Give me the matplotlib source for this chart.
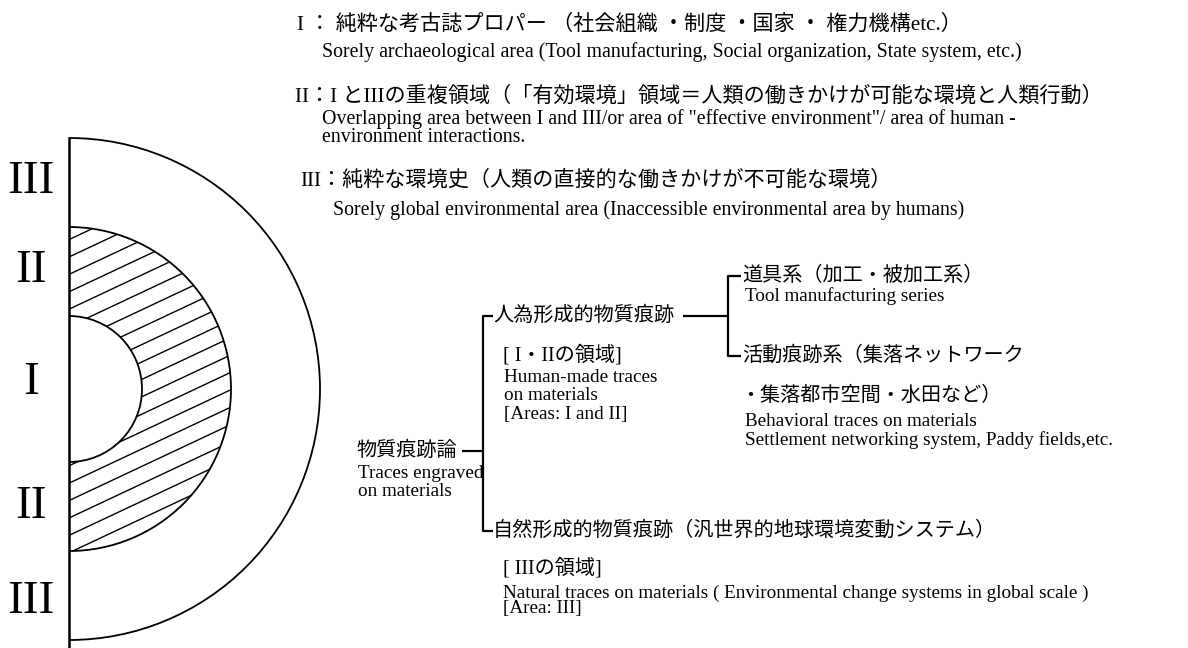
import numpy as np
import matplotlib.pyplot as plt
from matplotlib.patches import Arc, Wedge

# serif for latin text, CJK font as fallback for the Japanese glyphs
plt.rcParams['font.family'] = ['Liberation Serif', 'Noto Sans CJK JP']

# zone labels down the left side of the half disc
zone_labels = ['III', 'II', 'I', 'II', 'III']

# legend block at the top
legend_jp = [
    'I ： 純粋な考古誌プロパー （社会組織 ・制度 ・国家 ・ 権力機構etc.）',
    'II：I とIIIの重複領域（「有効環境」領域＝人類の働きかけが可能な環境と人類行動）',
    'III：純粋な環境史（人類の直接的な働きかけが不可能な環境）',
]
legend_en = [
    ['Sorely archaeological area (Tool manufacturing, Social organization, State system, etc.)'],
    ['Overlapping area between I and III/or area of "effective environment"/ area of human -',
     'environment interactions.'],
    ['Sorely global environmental area (Inaccessible environmental area by humans)'],
]

# tree of trace types
root_jp = '物質痕跡論'
root_en = ['Traces engraved', 'on materials']
human_jp = '人為形成的物質痕跡'
human_area = '[ I・IIの領域]'
human_en = ['Human-made traces', 'on materials', '[Areas: I and II]']
tool_jp = '道具系（加工・被加工系）'
tool_en = ['Tool manufacturing series']
act_jp = ['活動痕跡系（集落ネットワーク', '・集落都市空間・水田など）']
act_en = ['Behavioral traces on materials', 'Settlement networking system, Paddy fields,etc.']
nat_jp = '自然形成的物質痕跡（汎世界的地球環境変動システム）'
nat_area = '[ IIIの領域]'
nat_en = ['Natural traces on materials ( Environmental change systems in global scale )',
          '[Area: III]']

W, H = 1188, 648
fig = plt.figure(figsize=(W / 100, H / 100), dpi=100)
ax = fig.add_axes([0, 0, 1, 1])
ax.set_xlim(0, W)
ax.set_ylim(H, 0)
ax.axis('off')

JP_TOP, EN_TOP = 15.2, 14.3
JP, EN = 14.5, 13.8
lw = 1.6

# ---- half disc ----
cx, cy = 69, 389
radii = [251, 162, 73]
for r in radii:
    ax.add_patch(Arc((cx, cy), 2 * r, 2 * r, theta1=-90, theta2=90, lw=1.3, color='black'))
ax.plot([cx, cx], [cy - radii[0], H], color='black', lw=1.8)

# hatching in the middle ring
ring = Wedge((cx, cy), radii[1], -90, 90, width=radii[1] - radii[2],
             fill=False, lw=0, transform=ax.transData)
ax.add_patch(ring)
for c in np.arange(257 - 17.4 * 2, cy + radii[1] + 120, 17.4):
    ln, = ax.plot([cx, cx + 220], [c, c - 0.47 * 220], color='black', lw=1.0)
    ln.set_clip_path(ring)

for lab, y in zip(zone_labels, [182, 271, 383, 507, 602]):
    ax.text(31, y, lab, fontsize=34, ha='center', va='center')

# ---- legend block ----
jp_pos = [(297, 25), (295, 97), (300, 181)]
en_pos = [(322, 52), (322, 119), (333, 210)]
for s, (x, y) in zip(legend_jp, jp_pos):
    ax.text(x, y, s, fontsize=JP_TOP, ha='left', va='center')
for lines, (x, y) in zip(legend_en, en_pos):
    for i, s in enumerate(lines):
        ax.text(x, y + i * 18, s, fontsize=EN_TOP, ha='left', va='center')

# ---- tree ----
def line(xs, ys):
    ax.plot(xs, ys, color='black', lw=lw, solid_capstyle='butt')

bx, ytop, ymid, ybot = 483, 316, 451, 531
line([bx + 10, bx, bx, bx + 10], [ytop, ytop, ybot, ybot])
line([462, bx], [ymid, ymid])
ax.text(356, ymid, root_jp, fontsize=JP, ha='left', va='center')
for i, s in enumerate(root_en):
    ax.text(358, 474 + i * 18, s, fontsize=EN, ha='left', va='center')

ax.text(bx + 10, ytop, human_jp, fontsize=JP, ha='left', va='center')
ax.text(503, 355, human_area, fontsize=JP, ha='left', va='center')
for i, s in enumerate(human_en):
    ax.text(504, 377 + i * 18.5, s, fontsize=EN, ha='left', va='center')

bx2, yt2, yb2 = 728, 276, 356
line([683, bx2], [ytop, ytop])
line([bx2 + 13, bx2, bx2, bx2 + 13], [yt2, yt2, yb2, yb2])
ax.text(bx2 + 14, yt2, tool_jp, fontsize=JP, ha='left', va='center')
ax.text(bx2 + 17, 296, tool_en[0], fontsize=EN, ha='left', va='center')
ax.text(bx2 + 14, yb2, act_jp[0], fontsize=JP, ha='left', va='center')
ax.text(bx2 + 12, 396, act_jp[1], fontsize=JP, ha='left', va='center')
for i, s in enumerate(act_en):
    ax.text(bx2 + 17, 422 + i * 18.5, s, fontsize=EN, ha='left', va='center')

ax.text(bx + 10, ybot, nat_jp, fontsize=JP, ha='left', va='center')
ax.text(503, 568, nat_area, fontsize=JP, ha='left', va='center')
for i, s in enumerate(nat_en):
    ax.text(503, 593 + i * 16, s, fontsize=EN, ha='left', va='center')

fig.savefig('out.png', dpi=100, facecolor='white')
